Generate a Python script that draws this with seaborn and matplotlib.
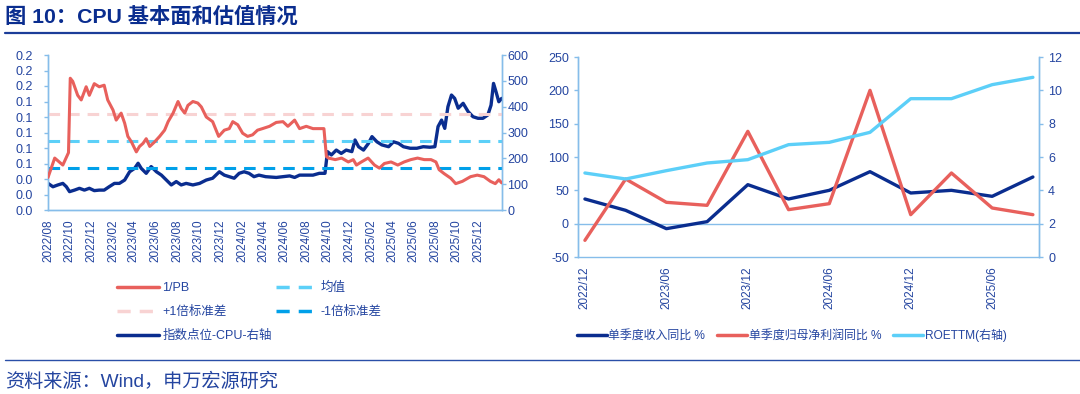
import matplotlib
matplotlib.use("Agg")
import matplotlib.pyplot as plt
import matplotlib.dates as mdates
from matplotlib.lines import Line2D
from matplotlib.ticker import FormatStrFormatter, FixedLocator
import seaborn as sns
import pandas as pd

# left panel: 1/PB (left axis) and CPU index level (right axis)
pb_dates = [
    "2022-08-01", "2022-08-20", "2022-09-12", "2022-09-28", "2022-10-03", "2022-10-10",
    "2022-10-24", "2022-11-03", "2022-11-17", "2022-11-26", "2022-12-10", "2022-12-24",
    "2023-01-07", "2023-01-17", "2023-02-01", "2023-02-10", "2023-02-24", "2023-03-06",
    "2023-03-15", "2023-03-25", "2023-04-08", "2023-04-17", "2023-04-27", "2023-05-06",
    "2023-05-16", "2023-05-30", "2023-06-13", "2023-06-27", "2023-07-07", "2023-07-21",
    "2023-08-04", "2023-08-13", "2023-08-23", "2023-09-01", "2023-09-15", "2023-09-29",
    "2023-10-09", "2023-10-23", "2023-11-10", "2023-11-27", "2023-12-13", "2023-12-27",
    "2024-01-06", "2024-01-20", "2024-02-03", "2024-02-17", "2024-03-02", "2024-03-16",
    "2024-03-30", "2024-04-19", "2024-05-08", "2024-05-27", "2024-06-10", "2024-06-29",
    "2024-07-13", "2024-08-01", "2024-08-20", "2024-09-07", "2024-09-20", "2024-09-27",
    "2024-10-03", "2024-10-22", "2024-11-09", "2024-11-28", "2024-12-12", "2024-12-21",
    "2025-01-04", "2025-01-23", "2025-02-10", "2025-02-24", "2025-03-10", "2025-03-29",
    "2025-04-17", "2025-05-05", "2025-05-24", "2025-06-12", "2025-07-01", "2025-07-20",
    "2025-08-03", "2025-08-12", "2025-08-26", "2025-09-14", "2025-09-28", "2025-10-17",
    "2025-11-09", "2025-11-28", "2025-12-17", "2026-01-04", "2026-01-18", "2026-01-28",
    "2026-02-05",
]
pb_values = [
    0.042, 0.067, 0.058, 0.074, 0.170, 0.166,
    0.148, 0.142, 0.159, 0.148, 0.163, 0.159,
    0.161, 0.142, 0.129, 0.116, 0.125, 0.112,
    0.095, 0.088, 0.075, 0.082, 0.086, 0.092,
    0.082, 0.088, 0.095, 0.103, 0.114, 0.125,
    0.140, 0.131, 0.125, 0.135, 0.140, 0.138,
    0.133, 0.120, 0.114, 0.095, 0.103, 0.105,
    0.114, 0.110, 0.099, 0.095, 0.097, 0.103,
    0.105, 0.108, 0.113, 0.114, 0.108, 0.116,
    0.105, 0.108, 0.105, 0.105, 0.105, 0.069,
    0.067, 0.065, 0.067, 0.062, 0.065, 0.058,
    0.062, 0.067, 0.058, 0.054, 0.060, 0.062,
    0.058, 0.062, 0.065, 0.067, 0.065, 0.065,
    0.062, 0.052, 0.047, 0.041, 0.034, 0.037,
    0.043, 0.045, 0.043, 0.037, 0.034, 0.039,
    0.035,
]
idx_dates = [
    "2022-08-01", "2022-08-15", "2022-08-29", "2022-09-12", "2022-09-22", "2022-10-01",
    "2022-10-15", "2022-10-29", "2022-11-12", "2022-11-26", "2022-12-10", "2022-12-24",
    "2023-01-07", "2023-01-21", "2023-02-05", "2023-02-19", "2023-03-06", "2023-03-20",
    "2023-04-03", "2023-04-13", "2023-04-22", "2023-05-06", "2023-05-20", "2023-06-04",
    "2023-06-18", "2023-07-02", "2023-07-16", "2023-07-30", "2023-08-13", "2023-08-27",
    "2023-09-15", "2023-10-04", "2023-10-23", "2023-11-10", "2023-11-29", "2023-12-13",
    "2023-12-27", "2024-01-10", "2024-01-24", "2024-02-07", "2024-02-21", "2024-03-06",
    "2024-03-20", "2024-04-08", "2024-05-08", "2024-05-27", "2024-06-15", "2024-06-29",
    "2024-07-13", "2024-08-01", "2024-08-20", "2024-09-07", "2024-09-23", "2024-09-30",
    "2024-10-11", "2024-10-25", "2024-11-08", "2024-11-22", "2024-12-08", "2024-12-17",
    "2024-12-27", "2025-01-10", "2025-01-24", "2025-02-03", "2025-02-17", "2025-03-03",
    "2025-03-22", "2025-04-05", "2025-04-19", "2025-05-03", "2025-05-22", "2025-06-10",
    "2025-06-28", "2025-07-17", "2025-07-31", "2025-08-09", "2025-08-19", "2025-08-28",
    "2025-09-06", "2025-09-16", "2025-09-25", "2025-10-05", "2025-10-19", "2025-11-02",
    "2025-11-16", "2025-11-30", "2025-12-14", "2025-12-28", "2026-01-06", "2026-01-13",
    "2026-01-20", "2026-01-28", "2026-02-05",
]
idx_values = [
    103, 90, 97, 103, 90, 71,
    77, 84, 77, 84, 75, 77,
    77, 90, 103, 103, 116, 148,
    161, 181, 161, 142, 168, 148,
    135, 116, 97, 110, 97, 103,
    97, 103, 116, 123, 148, 135,
    129, 123, 142, 148, 142, 129,
    135, 129, 126, 129, 132, 126,
    135, 135, 135, 142, 142, 226,
    213, 232, 219, 232, 226, 271,
    245, 232, 258, 284, 264, 252,
    245, 264, 258, 245, 239, 239,
    245, 243, 245, 323, 348, 316,
    400, 445, 432, 394, 413, 381,
    361, 355, 355, 368, 406, 490,
    458, 419, 432,
]
pb_mean = 0.089
pb_std = 0.035

# right panel: quarterly fundamentals
quarters = ["2022/12", "2023/03", "2023/06", "2023/09", "2023/12", "2024/03",
            "2024/06", "2024/09", "2024/12", "2025/03", "2025/06", "2025/09"]
revenue_yoy = [37, 20, -7.5, 3, 58.5, 37, 50, 78, 46, 50, 41, 70]
profit_yoy = [-25, 67, 32, 27.5, 138.5, 21, 30, 200, 13.5, 76, 23.5, 13.5]
roe_ttm = [5.04, 4.68, 5.18, 5.64, 5.84, 6.74, 6.88, 7.48, 9.5, 9.5, 10.34, 10.78]

RED = "#E8605C"
NAVY = "#0A2D8F"
SKY = "#5CCFF8"
MEAN_C = "#5CD0F8"
MINUS_C = "#00A0E9"
PLUS_C = "#F8D3D3"
TXT = "#2445A0"
SPINE = "#86BDEA"

sns.set_style("white")
plt.rcParams["font.family"] = ["Liberation Sans", "Noto Sans CJK SC"]
plt.rcParams["axes.unicode_minus"] = False

fig = plt.figure(figsize=(10.8, 3.94), dpi=100)
W, H = 1080, 394


def box(x0, y0, x1, y1):
    return [x0 / W, 1 - y1 / H, (x1 - x0) / W, (y1 - y0) / H]


def style_axis(ax):
    for s in ["left", "right", "bottom", "top"]:
        ax.spines[s].set_color(SPINE)
        ax.spines[s].set_linewidth(1.0)
    ax.tick_params(colors=SPINE, labelcolor=TXT, labelsize=9, length=3, width=1)


# ---- left panel
ax1 = fig.add_axes(box(48, 55, 502, 210))
ax1r = ax1.twinx()
pb_df = pd.DataFrame({"date": pd.to_datetime(pb_dates), "v": pb_values})
idx_df = pd.DataFrame({"date": pd.to_datetime(idx_dates), "v": idx_values})

ls_mean = (0, (3.8, 2.6))
ax1.axhline(pb_mean + pb_std, color=PLUS_C, lw=2.2, ls=ls_mean, zorder=1)
ax1.axhline(pb_mean, color=MEAN_C, lw=2.2, ls=ls_mean, zorder=1)
ax1.axhline(pb_mean - pb_std, color=MINUS_C, lw=2.2, ls=ls_mean, zorder=1)
sns.lineplot(data=pb_df, x="date", y="v", ax=ax1, color=RED, lw=2.2, zorder=3)
sns.lineplot(data=idx_df, x="date", y="v", ax=ax1r, color=NAVY, lw=2.4, zorder=3)

ax1.set_ylim(0, 0.2)
ax1.set_yticks([i * 0.02 for i in range(11)])
ax1.yaxis.set_major_formatter(FormatStrFormatter("%.1f"))
ax1r.set_ylim(0, 600)
ax1r.set_yticks(range(0, 601, 100))
ax1.set_xlim(pd.Timestamp("2022-08-01"), pd.Timestamp("2026-02-06"))
ax1.set_xticks(pd.date_range("2022-08-01", "2025-12-01", freq="2MS"))
ax1.xaxis.set_major_formatter(mdates.DateFormatter("%Y/%m"))
for a in (ax1, ax1r):
    style_axis(a)
    a.spines["top"].set_visible(False)
    a.set_xlabel("")
    a.set_ylabel("")
ax1.tick_params(axis="x", rotation=90, labelsize=8.5)
ax1.tick_params(axis="y", pad=8)
ax1r.tick_params(axis="y", pad=1)
ax1.set_zorder(ax1r.get_zorder() + 1)
ax1.patch.set_visible(False)

h_left = [
    Line2D([], [], color=RED, lw=2.5),
    Line2D([], [], color=PLUS_C, lw=2.5, ls=ls_mean),
    Line2D([], [], color=NAVY, lw=2.5),
    Line2D([], [], color=MEAN_C, lw=2.5, ls=ls_mean),
    Line2D([], [], color=MINUS_C, lw=2.5, ls=ls_mean),
]
l_left = ["1/PB", "+1倍标准差", "指数点位-CPU-右轴", "均值", "-1倍标准差"]
fig.legend(h_left, l_left, loc="upper left", bbox_to_anchor=(106 / W, 1 - 271 / H),
           ncol=2, frameon=False, fontsize=9, labelcolor=TXT, handlelength=3.3,
           columnspacing=0.3, handletextpad=0.3, labelspacing=0.95)

# ---- right panel
ax2 = fig.add_axes(box(578, 57, 1039, 257))
ax2r = ax2.twinx()
q_df = pd.DataFrame({"i": range(len(quarters)), "rev": revenue_yoy,
                     "prof": profit_yoy, "roe": roe_ttm})
sns.lineplot(data=q_df, x="i", y="rev", ax=ax2, color=NAVY, lw=2.4, zorder=3)
sns.lineplot(data=q_df, x="i", y="prof", ax=ax2, color=RED, lw=2.4, zorder=3)
sns.lineplot(data=q_df, x="i", y="roe", ax=ax2r, color=SKY, lw=2.4, zorder=2)

ax2.set_ylim(-50, 250)
ax2.set_yticks(range(-50, 251, 50))
ax2r.set_ylim(0, 12)
ax2r.set_yticks(range(0, 13, 2))
ax2.set_xlim(-0.17, 11.15)
for a in (ax2, ax2r):
    style_axis(a)
    a.spines["top"].set_visible(False)
    a.set_xlabel("")
    a.set_ylabel("")
ax2.spines["bottom"].set_position(("data", 0))
ax2.set_xticks(range(0, len(quarters), 2))
ax2.set_xticklabels(quarters[::2], rotation=90, va="top")
ax2.xaxis.set_minor_locator(FixedLocator([-0.18 + 2 * k for k in range(6)]))
ax2.tick_params(axis="x", which="major", length=0, pad=31, labelsize=8.5)
ax2.tick_params(axis="x", which="minor", length=4, color=SPINE, width=1)

h_right = [Line2D([], [], color=NAVY, lw=2.5), Line2D([], [], color=RED, lw=2.5),
           Line2D([], [], color=SKY, lw=2.5)]
l_right = ["单季度收入同比 %", "单季度归母净利润同比 %", "ROETTM(右轴)"]
fig.legend(h_right, l_right, loc="upper left", bbox_to_anchor=(566 / W, 1 - 318 / H),
           ncol=3, frameon=False, fontsize=8.6, labelcolor=TXT, handlelength=2.5,
           columnspacing=1.0, handletextpad=0.15)

# ---- title and source
fig.text(5 / W, 1 - 17 / H, "图 10：CPU 基本面和估值情况", fontsize=15.3, fontweight="bold",
         color=NAVY, va="center", ha="left")
fig.add_artist(Line2D([5 / W, 1], [1 - 33 / H, 1 - 33 / H], color="#1C3D99", lw=1.6))
fig.add_artist(Line2D([5 / W, 1], [1 - 360 / H, 1 - 360 / H], color="#2A4FA8", lw=1.0))
fig.text(5 / W, 1 - 382 / H, "资料来源：Wind，申万宏源研究", fontsize=13.8, color=TXT,
         va="center", ha="left")

fig.savefig("out.png", dpi=100, facecolor="white")
